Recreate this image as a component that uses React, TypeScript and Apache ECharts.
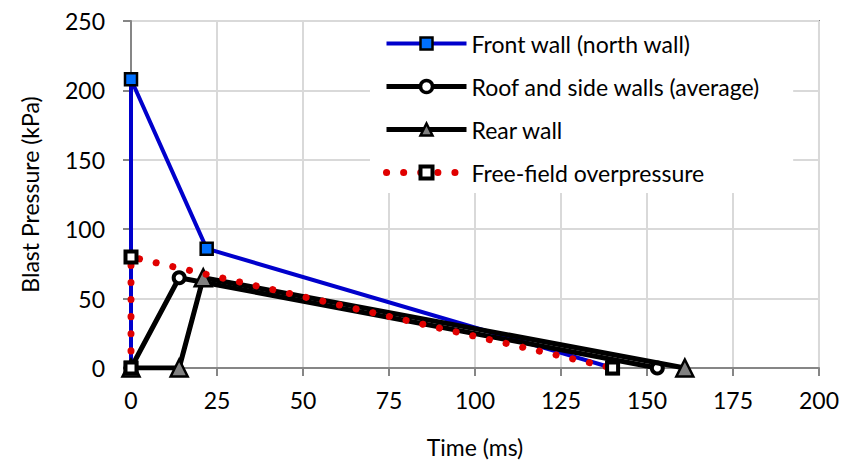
import React, { useEffect, useRef } from "react";
import * as echarts from "echarts";

const seriesNames = [
  "Front wall (north wall)",
  "Roof and side walls (average)",
  "Rear wall",
  "Free-field overpressure",
];
const frontWall: [number, number][] = [[0, 0], [0, 208], [22, 86], [140, 0]];
const roofSide: [number, number][] = [[0, 0], [14, 65], [153, 0]];
const rearWall: [number, number][] = [[0, 0], [14, 0], [21, 65], [161, 0]];
const freeField: [number, number][] = [[0, 0], [0, 80], [140, 0]];
const xTicks = { min: 0, max: 200, interval: 25 };
const yTicks = { min: 0, max: 250, interval: 50 };

const FONT = "Lato";

const styles = [
  {
    symbol: "rect",
    symbolSize: 12,
    lineStyle: { color: "#0000cc", width: 4 },
    itemStyle: { color: "#0070ff", borderColor: "#000", borderWidth: 2.5 },
  },
  {
    symbol: "circle",
    symbolSize: 11,
    lineStyle: { color: "#000", width: 5 },
    itemStyle: { color: "#ffffff", borderColor: "#000", borderWidth: 4 },
  },
  {
    symbol: "triangle",
    symbolSize: 17,
    lineStyle: { color: "#000", width: 5 },
    itemStyle: { color: "#808080", borderColor: "#000", borderWidth: 2.5 },
  },
  {
    symbol: "rect",
    symbolSize: 11,
    lineStyle: { color: "#e00000", width: 7, type: [0.1, 17], cap: "round" },
    itemStyle: { color: "#ffffff", borderColor: "#000", borderWidth: 4 },
  },
];
const seriesData = [frontWall, roofSide, rearWall, freeField];

export default function App() {
  const ref = useRef<HTMLDivElement>(null);
  useEffect(() => {
    if (!ref.current) return;
    const chart = echarts.init(ref.current, undefined, { renderer: "svg" });
    const axisLineColor = "#868686";
    chart.setOption({
      animation: false,
      backgroundColor: "#ffffff",
      textStyle: { fontFamily: FONT },
      grid: {
        left: 131,
        right: 23,
        top: 21,
        bottom: 95,
        show: true,
        borderColor: axisLineColor,
        borderWidth: 2,
      },
      legend: {
        orient: "vertical",
        left: 370,
        top: 22,
        padding: [9, 33, 8, 13],
        backgroundColor: "#ffffff",
        itemWidth: 80,
        itemHeight: 15,
        itemGap: 18,
        textStyle: { fontFamily: FONT, fontSize: 23, color: "#000", lineHeight: 25 },
        data: seriesNames.map((name, i) => ({
          name,
          lineStyle: { ...styles[i].lineStyle },
          itemStyle: { ...styles[i].itemStyle, borderWidth: i === 1 ? 3.5 : styles[i].itemStyle.borderWidth },
        })),
      },
      xAxis: {
        type: "value",
        min: xTicks.min,
        max: xTicks.max,
        interval: xTicks.interval,
        name: "Time (ms)",
        nameLocation: "middle",
        nameGap: 67,
        nameTextStyle: { fontFamily: FONT, fontSize: 23, color: "#000" },
        axisLine: { show: true, lineStyle: { color: axisLineColor, width: 2 } },
        axisTick: { show: true, length: 8, lineStyle: { color: axisLineColor, width: 2 } },
        axisLabel: { fontFamily: FONT, fontSize: 23, color: "#000", margin: 20 },
        splitLine: { show: true, lineStyle: { color: "#d9d9d9", width: 2 } },
      },
      yAxis: {
        type: "value",
        min: yTicks.min,
        max: yTicks.max,
        interval: yTicks.interval,
        name: "Blast Pressure (kPa)",
        nameLocation: "middle",
        nameGap: 90,
        nameTextStyle: { fontFamily: FONT, fontSize: 23, color: "#000" },
        axisLine: { show: true, lineStyle: { color: axisLineColor, width: 2 } },
        axisTick: { show: true, length: 8, lineStyle: { color: axisLineColor, width: 2 } },
        axisLabel: { fontFamily: FONT, fontSize: 23, color: "#000", margin: 26 },
        splitLine: { show: true, lineStyle: { color: "#d9d9d9", width: 2 } },
      },
      series: seriesNames.map((name, i) => ({
        name,
        type: "line",
        data: seriesData[i],
        symbol: styles[i].symbol,
        symbolSize: styles[i].symbolSize,
        showAllSymbol: true,
        lineStyle: styles[i].lineStyle,
        itemStyle: styles[i].itemStyle,
        z: 2 + i,
      })),
    });
    return () => chart.dispose();
  }, []);
  return <div ref={ref} style={{ width: 842, height: 463, position: "absolute", left: 0, top: 0 }} />;
}
